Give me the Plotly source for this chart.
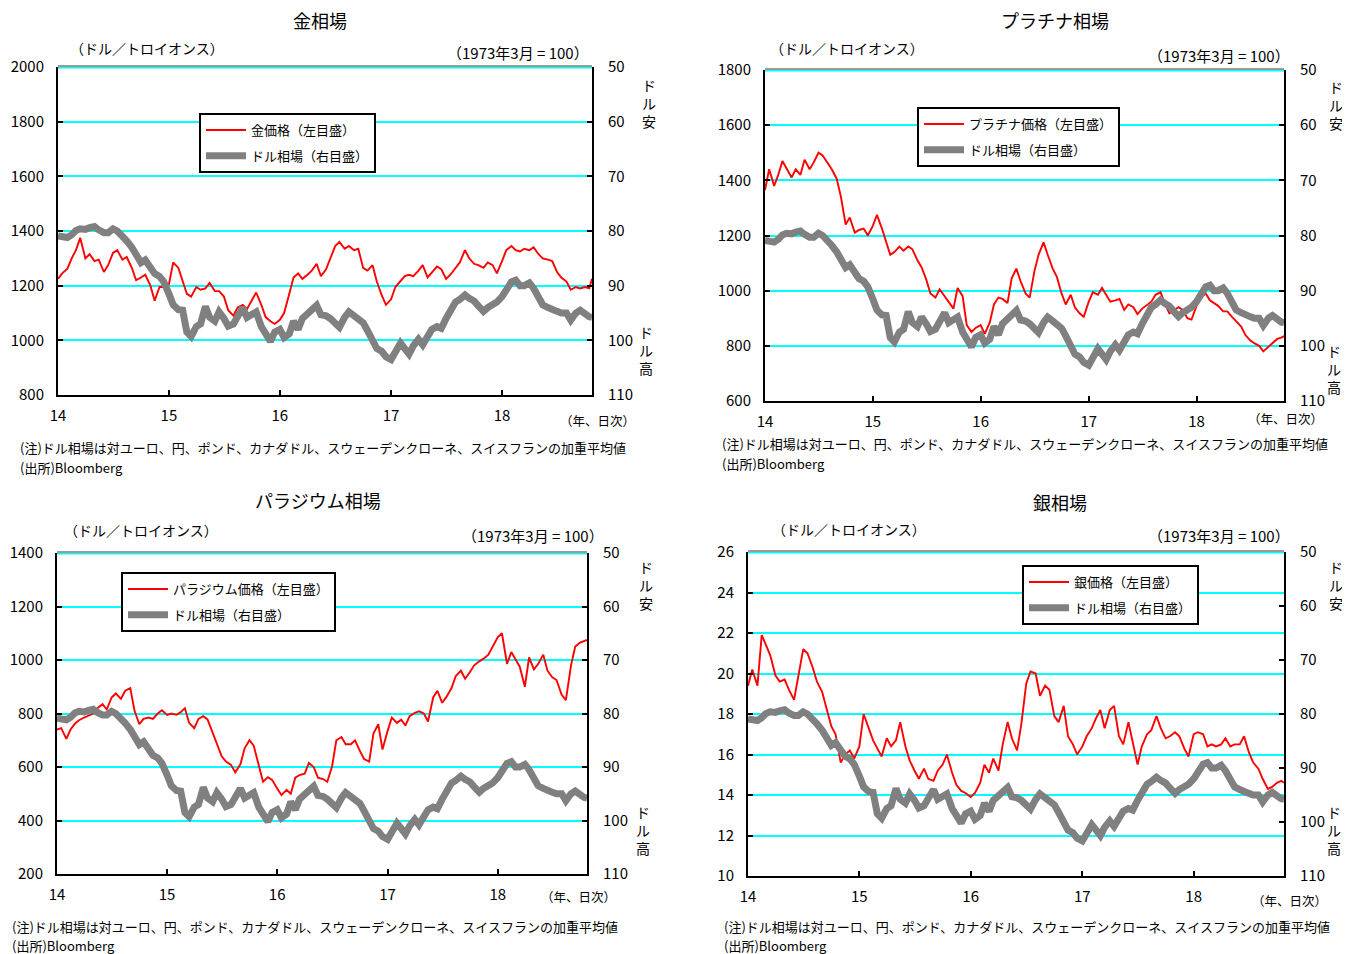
import pandas as pd
import plotly.graph_objects as go

# ---------------- data (semi-monthly) ----------------
dates = list(pd.date_range("2014-01-01", "2018-10-15", freq="SMS").strftime("%Y-%m-%d")) + ["2018-10-24"]

# US dollar index (1973/3 = 100), right axis, shared by all panels
dollar = [
    80.9, 81.0, 81.2, 80.7, 79.9, 79.6, 79.7, 79.4, 79.2, 79.8,
    80.3, 80.3, 79.6, 80.0, 80.8, 81.8, 83.0, 84.3, 85.8, 85.3,
    87.0, 87.8, 88.3, 89.3, 91.5, 93.5, 94.4, 94.5, 98.5, 99.3,
    97.5, 97.0, 93.8, 95.8, 96.5, 94.8, 96.0, 97.4, 97.0, 95.5,
    94.0, 95.8, 95.2, 94.8, 97.5, 99.0, 100.2, 98.5, 98.0, 99.5,
    98.8, 96.5, 98.0, 96.0, 95.0, 94.5, 93.6, 95.3, 95.5, 96.0,
    97.0, 97.6, 95.8, 94.8, 95.5, 96.0, 96.8, 98.2, 99.8, 101.5,
    102.0, 103.0, 103.5, 102.0, 100.5, 101.5, 102.5, 101.0, 99.8, 100.8,
    99.5, 98.0, 97.5, 97.8, 96.0, 94.5, 93.0, 92.5, 91.7, 92.3,
    92.8, 93.7, 94.7, 94.0, 93.5, 93.0, 92.0, 90.5, 89.3, 89.0,
    90.0, 90.0, 89.5, 90.5, 92.0, 93.5, 94.0, 94.5, 94.7, 95.0,
    95.0, 96.3, 95.0, 94.5, 95.3, 95.7, 95.8,
]

gold = [
    1225, 1245, 1262, 1300, 1330, 1375, 1300, 1315, 1290, 1295,
    1250, 1275, 1320, 1330, 1295, 1305, 1265, 1220, 1230, 1240,
    1200, 1145, 1195, 1195, 1205, 1285, 1265, 1220, 1170, 1160,
    1195, 1185, 1190, 1210, 1180, 1180, 1160, 1110, 1090, 1120,
    1130, 1115, 1145, 1175, 1130, 1085, 1070, 1060, 1075, 1100,
    1170, 1230, 1245, 1225, 1240, 1255, 1280, 1235, 1260, 1300,
    1345, 1360, 1335, 1345, 1330, 1335, 1265, 1255, 1275, 1215,
    1165, 1130, 1150, 1195, 1215, 1235, 1240, 1235, 1255, 1275,
    1230, 1250, 1270, 1260, 1225, 1240, 1265, 1285, 1330, 1300,
    1280, 1275, 1265, 1285, 1275, 1245, 1290, 1330, 1345, 1330,
    1325, 1335, 1330, 1340, 1315, 1300, 1295, 1290, 1250, 1230,
    1215, 1185, 1195, 1190, 1195, 1190, 1225,
]

platinum = [
    1365, 1440, 1380, 1420, 1470, 1445, 1410, 1440, 1420, 1475,
    1440, 1465, 1500, 1490, 1465, 1440, 1405, 1340, 1240, 1265,
    1210, 1220, 1225, 1200, 1235, 1275, 1225, 1180, 1130, 1140,
    1160, 1145, 1160, 1150, 1110, 1085, 1040, 990, 975, 1005,
    980, 955, 935, 1010, 980, 875, 850, 865, 875, 843,
    885, 950, 975, 970, 955, 1045, 1080, 1035, 990, 975,
    1070, 1130, 1175, 1130, 1080, 1050, 990, 950, 985, 940,
    918, 905, 960, 995, 985, 1010, 985, 960, 965, 970,
    930, 950, 940, 915, 935, 945, 960, 985, 995, 955,
    918, 928, 940, 930, 900, 895, 945, 975, 990, 965,
    955, 945, 925, 925, 905, 890, 870, 840, 820, 810,
    800, 780, 795, 810, 825, 830, 835,
]

palladium = [
    740, 745, 705, 740, 762, 775, 785, 793, 800, 820,
    835, 815, 860, 875, 855, 885, 895, 810, 760, 780,
    785, 780, 800, 812, 795, 800, 795, 805, 820, 765,
    745, 780, 790, 778, 730, 685, 640, 620, 608, 580,
    610, 670, 700, 680, 605, 545, 562, 552, 520, 495,
    515, 500, 560, 570, 575, 615, 600, 560, 555, 545,
    603, 700, 712, 685, 685, 700, 660, 630, 620, 725,
    760, 665, 735, 785, 765, 777, 755, 790, 802, 808,
    800, 770, 860, 885, 840, 862, 895, 940, 960, 930,
    955, 980, 995, 1005, 1020, 1050, 1085, 1100, 985, 1030,
    1000, 975, 900, 1010, 965, 985, 1020, 960, 935, 925,
    870, 850, 980, 1050, 1065, 1070, 1075,
]

silver = [
    19.4, 20.2, 19.4, 21.9, 21.4, 20.9, 19.9, 19.6, 19.7, 19.2,
    18.7, 19.8, 21.2, 21.0, 20.3, 19.6, 19.1, 18.3, 17.4, 17.0,
    15.6, 16.0, 16.2, 15.8, 16.4, 18.0, 17.3, 16.7, 16.3, 15.9,
    16.8, 16.4, 16.7, 17.6, 16.4, 15.7, 15.2, 14.8, 15.3, 14.8,
    14.7, 15.2, 15.5, 16.0, 15.1, 14.5, 14.2, 14.1, 13.9, 14.1,
    14.6, 15.5, 15.1, 15.8, 15.2, 16.5, 17.6, 16.8, 16.2, 17.5,
    19.5, 20.1, 20.0, 18.9, 19.4, 19.2, 17.9, 17.6, 18.4, 16.9,
    16.5, 16.0, 16.4, 16.9, 17.3, 17.8, 18.2, 17.3, 18.2, 18.4,
    16.9, 16.5, 17.6, 16.6, 15.5, 16.4, 17.0, 17.2, 17.9, 17.3,
    16.8, 16.9, 17.1, 16.9, 16.3, 15.9, 17.0, 17.1, 17.0, 16.4,
    16.5, 16.4, 16.5, 16.8, 16.4, 16.5, 16.5, 16.9, 16.1, 15.6,
    15.3, 14.8, 14.3, 14.4, 14.6, 14.7, 14.6,
]

year_ticks = ["2014-01-01", "2015-01-01", "2016-01-01", "2017-01-01", "2018-01-01"]
year_labels = ["14", "15", "16", "17", "18"]
x_range = ["2014-01-01", "2018-10-24"]

titles = ["金相場", "プラチナ相場", "パラジウム相場", "銀相場"]
price_names = ["金価格（左目盛）", "プラチナ価格（左目盛）", "パラジウム価格（左目盛）", "銀価格（左目盛）"]
dollar_name = "ドル相場（右目盛）"
prices = [gold, platinum, palladium, silver]
left_ranges = [[800, 2000], [600, 1800], [200, 1400], [10, 26]]
left_dticks = [200, 200, 200, 2]

unit_text = "（ドル／トロイオンス）"
base_text = "（1973年3月 = 100）"
period_text = "（年、日次）"
note_text = "(注)ドル相場は対ユーロ、円、ポンド、カナダドル、スウェーデンクローネ、スイスフランの加重平均値"
source_text = "(出所)Bloomberg"

# ---------------- layout geometry (pixels in the 1350x954 page) ----------------
# the page body has an 8px margin, so the figure itself starts at (8, 8)
PAGE_W, PAGE_H = 1350, 954
OFF = 8
W, H = PAGE_W - OFF, PAGE_H - OFF
FONT = "Noto Sans CJK JP"


def px(x):
    return (x - OFF) / W


def py(y):
    return 1 - (y - OFF) / H


# plot boxes: left, right, top, bottom (page pixels)
boxes = [(58, 592, 67, 395), (765, 1284, 70, 401), (57, 587, 553, 874), (748, 1284, 552, 876)]
legend_pos = [(199, 113), (917, 107), (121, 572), (1022, 565)]
text_pos = [
    dict(title=(320, 20), unit=(68, 48), base=(591, 53), yasu=(649, 103), taka=(646, 350),
         period=(597, 421), note=(18, 448), src=(18, 468)),
    dict(title=(1055, 20), unit=(768, 48), base=(1292, 55), yasu=(1336, 105), taka=(1334, 369),
         period=(1285, 418), note=(720, 443), src=(720, 463)),
    dict(title=(318, 500), unit=(62, 530), base=(606, 535), yasu=(646, 585), taka=(643, 830),
         period=(578, 896), note=(10, 926), src=(10, 945)),
    dict(title=(1060, 502), unit=(770, 529), base=(1292, 535), yasu=(1336, 585), taka=(1334, 830),
         period=(1289, 900), note=(722, 926), src=(722, 945)),
]

fig = go.Figure()
layout = dict(
    width=W, height=H, margin=dict(l=0, r=0, t=0, b=0, pad=0, autoexpand=False),
    paper_bgcolor="white", plot_bgcolor="white",
    font=dict(family=FONT, size=15, color="black"),
    showlegend=True,
)
annotations = []
shapes = []

for k in range(4):
    n = k + 1
    xname = "x" if n == 1 else f"x{n}"
    yl = "y" if n == 1 else f"y{2 * n - 1}"
    yr = f"y{2 * n}"
    lg = "legend" if n == 1 else f"legend{n}"
    x0, x1, t, b = boxes[k]

    fig.add_trace(go.Scatter(
        x=dates, y=prices[k], mode="lines", name=price_names[k],
        line=dict(color="#FF0000", width=1.9), xaxis=xname, yaxis=yl,
        legend=lg, legendgroup=f"p{n}",
    ))
    fig.add_trace(go.Scatter(
        x=dates, y=dollar, mode="lines", name=dollar_name,
        line=dict(color="#808080", width=7), xaxis=xname, yaxis=yr,
        legend=lg, legendgroup=f"d{n}",
    ))

    xkey = "xaxis" if n == 1 else f"xaxis{n}"
    ylkey = "yaxis" if n == 1 else f"yaxis{2 * n - 1}"
    yrkey = f"yaxis{2 * n}"
    layout[xkey] = dict(
        domain=[px(x0), px(x1)], anchor=yl, type="date", range=x_range,
        tickvals=year_ticks, ticktext=year_labels, showgrid=False, zeroline=False,
        showline=True, linecolor="black", linewidth=2,
        ticks="inside", ticklen=5, tickwidth=2, tickcolor="black",
        tickfont=dict(size=15), ticklabelstandoff=6,
    )
    layout[ylkey] = dict(
        domain=[py(b), py(t)], anchor=xname, range=left_ranges[k], dtick=left_dticks[k],
        showgrid=True, gridcolor="#00FFFF", gridwidth=2, zeroline=False,
        showline=True, linecolor="black", linewidth=2,
        ticks="inside", ticklen=5, tickwidth=2, tickcolor="black",
        tickfont=dict(size=15), ticklabelstandoff=9,
    )
    layout[yrkey] = dict(
        domain=[py(b), py(t)], anchor=xname, overlaying=yl, side="right",
        range=[110, 50], dtick=10, showgrid=False, zeroline=False,
        showline=True, linecolor="black", linewidth=2,
        ticks="inside", ticklen=5, tickwidth=2, tickcolor="black",
        tickfont=dict(size=15), ticklabelstandoff=11,
    )
    lx, ly = legend_pos[k]
    layout[lg] = dict(
        x=px(lx), y=py(ly), xanchor="left", yanchor="top",
        bgcolor="white", bordercolor="black", borderwidth=2,
        font=dict(size=13, family=FONT), tracegroupgap=6, itemwidth=40,
        traceorder="grouped",
    )

    # top of the plot area: cyan grid line with a grey border above it
    shapes.append(dict(type="line", xref="paper", yref="paper",
                       x0=px(x0), x1=px(x1), y0=py(t + 0.5), y1=py(t + 0.5),
                       line=dict(color="#00FFFF", width=2), layer="below"))
    shapes.append(dict(type="line", xref="paper", yref="paper",
                       x0=px(x0), x1=px(x1), y0=py(t - 1), y1=py(t - 1),
                       line=dict(color="#9A9A9A", width=2), layer="above"))

    tp = text_pos[k]

    def ann(text, pos, xanchor="center", size=14):
        annotations.append(dict(text=text, x=px(pos[0]), y=py(pos[1]), xref="paper", yref="paper",
                                xanchor=xanchor, yanchor="middle", showarrow=False,
                                font=dict(size=size, family=FONT, color="black")))

    ann(titles[k], tp["title"], "center", 18)
    ann(unit_text, tp["unit"], "left", 14)
    ann(base_text, tp["base"], "right", 15)
    ann("ド<br>ル<br>安", tp["yasu"], "center", 14)
    ann("ド<br>ル<br>高", tp["taka"], "center", 14)
    ann(period_text, tp["period"], "center", 12.5)
    ann(note_text, tp["note"], "left", 13)
    ann(source_text, tp["src"], "left", 13)

layout["annotations"] = annotations
layout["shapes"] = shapes
fig.update_layout(**layout)
fig.write_html("out.html")
